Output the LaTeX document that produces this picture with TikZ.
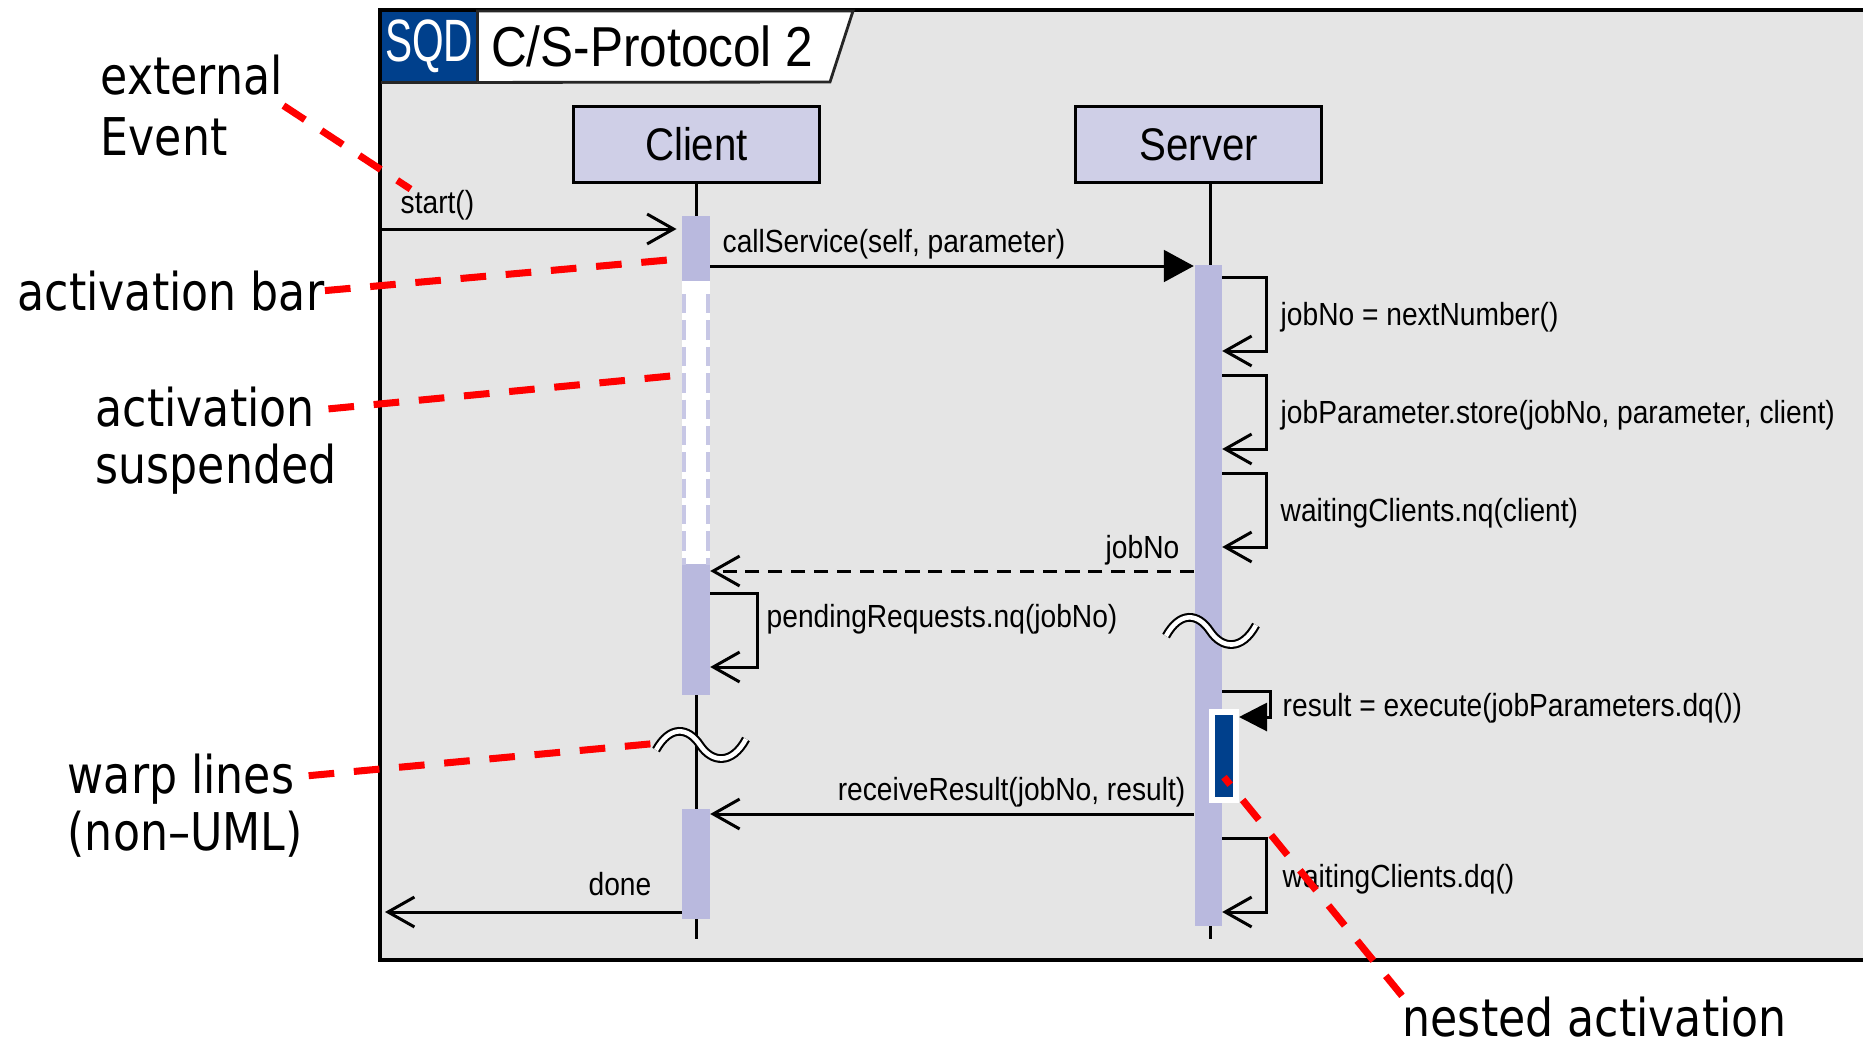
\documentclass[tikz,border=0pt]{standalone}
\usepackage{fontspec}
\usepackage{xcolor}
\usepackage{tikz}
\usetikzlibrary{
  arrows.meta,
  positioning,
  calc
}
\newfontfamily\diafont[FakeStretch=0.88]{Liberation Sans}
\newfontfamily\sqdfont[FakeStretch=0.68]{Liberation Sans}
\newfontfamily\notefont[FakeStretch=0.85]{DejaVu Sans}
\definecolor{sqBack}{HTML}{E5E5E5}
\definecolor{sqHead}{HTML}{CFCFE7}
\definecolor{sqBar}{HTML}{B9B9DE}
\definecolor{sqBlue}{HTML}{00408C}
\definecolor{sqNote}{HTML}{FF0000}
\tikzset{
  sqdframe/.style={draw=black, line width=1.15pt, fill=sqBack},
  sqdtag/.style={
    fill=sqBlue, text=white, inner sep=0pt, minimum width=0.95cm, minimum height=0.70cm,
    font=\sqdfont\fontsize{17pt}{20pt}\selectfont
  },
  titletab/.style={fill=white, draw=black!85, line width=0.8pt},
  titletext/.style={inner sep=0pt, font=\diafont\fontsize{16pt}{20pt}\selectfont},
  lifehead/.style={
    draw, line width=0.85pt, fill=sqHead, minimum width=2.46cm, minimum height=0.75cm,
    inner sep=0pt, font=\diafont\fontsize{13pt}{15pt}\selectfont
  },
  lifeline/.style={line width=0.85pt},
  actbar/.style={fill=sqBar, minimum width=0.27cm, inner sep=0pt, anchor=north},
  suspbar/.style={actbar, fill=white},
  suspedge/.style={draw=sqBar!80, line width=1.1pt, dash pattern=on 5.5pt off 2pt},
  nestbar/.style={fill=sqBlue, draw=white, line width=1.7pt, minimum width=0.24cm, minimum height=0.87cm, inner sep=0pt},
  msg/.style={line width=0.85pt, -{Straight Barb[length=7.5pt, width=8.5pt]}},
  call/.style={line width=0.85pt, -{Triangle[length=8.5pt, width=9pt]}},
  reply/.style={msg, dash pattern=on 4pt off 2.5pt},
  lbl/.style={inner sep=0pt, font=\diafont\fontsize{9.1pt}{11pt}\selectfont},
  warpline/.style={draw=black, line width=0.6pt, double=white, double distance=1.3pt},
  notetext/.style={inner sep=0pt, align=left, font=\notefont\fontsize{14.8pt}{16.3pt}\selectfont},
  pointer/.style={draw=sqNote, line width=2pt, dash pattern=on 7.3pt off 5.6pt}
}

\begin{document}
\begin{tikzpicture}[x=0.01cm, y=-0.01cm]
  \useasboundingbox (0,0) rectangle (1863,1051);
  \clip (0,0) rectangle (1863,1051);

  % frame and heading
  \draw[sqdframe] (380,10) rectangle (1900,960);
  \node[sqdtag, anchor=north west] (sqd) at (381,11) {SQD};
  \draw[titletab] (sqd.north east) -- (853,11) -- (830,82) -- (sqd.south east) -- cycle;
  \draw[titletab] (sqd.south west) -- (sqd.south east);
  \node[titletext, right=0.13cm of sqd] (title) {C/S-Protocol 2};

  % lifelines
  \node[lifehead] (client) at (696.5,144.5) {Client};
  \node[lifehead, right=2.53cm of client] (server) {Server};
  \draw[lifeline] (client.south) -- ++(0,755);
  \draw[lifeline] ([xshift=3.4pt]server.south) -- ++(0,755);

  % activations
  \node[actbar, minimum height=0.65cm] (cbarA) at (696,215) {};
  \node[suspbar, minimum height=2.83cm] (cSusp) at (696,280) {};
  \node[actbar, minimum height=1.31cm] (cbarB) at (696,563) {};
  \node[actbar, minimum height=1.10cm] (cbarC) at (696,808) {};
  \node[actbar, minimum height=6.61cm] (sbar) at (1208,264) {};
  \draw[suspedge] ([xshift=0.6pt, yshift=-4pt]cSusp.north west) -- ([xshift=0.6pt]cSusp.south west);
  \draw[suspedge] ([xshift=-0.6pt, yshift=-4pt]cSusp.north east) -- ([xshift=-0.6pt]cSusp.south east);
  \node[nestbar] (nest) at (1224,756) {};

  % warp lines
  \coordinate (cwarp) at (700,745);
  \coordinate (swarp) at (1210,631);
  \draw[warpline, shift={(cwarp)}] (-44,5) .. controls (-30,-20) and (-12,-18) .. (0,0)
    .. controls (12,18) and (32,20) .. (46,-6);
  \draw[warpline, shift={(swarp)}] (-44,5) .. controls (-30,-20) and (-12,-18) .. (0,0)
    .. controls (12,18) and (32,20) .. (46,-6);

  % messages
  \coordinate (gateIn) at (382,229);
  \coordinate (gateOut) at (385,912);
  \draw[msg, shorten >=1.5pt] (gateIn) -- (cbarA.west |- gateIn);
  \node[lbl, anchor=base west] (lStart) at (400,213) {start()};

  \draw[call] (cbarA.east |- 0,266) -- (sbar.west |- 0,266);
  \node[lbl, anchor=base west] (lCall) at (722,252) {callService(self, parameter)};

  \draw[msg] (sbar.east |- 0,277) -- ++(44,0) -- ++(0,74) -- ++(-44,0);
  \node[lbl, anchor=base west] (lNext) at (1280,325) {jobNo = nextNumber()};
  \draw[msg] (sbar.east |- 0,375) -- ++(44,0) -- ++(0,74) -- ++(-44,0);
  \node[lbl, anchor=base west] (lStore) at (1280,423) {jobParameter.store(jobNo, parameter, client)};
  \draw[msg] (sbar.east |- 0,473) -- ++(44,0) -- ++(0,74) -- ++(-44,0);
  \node[lbl, anchor=base west] (lEnq) at (1280,521) {waitingClients.nq(client)};

  \draw[reply] (sbar.west |- 0,571) -- (cbarB.east |- 0,571);
  \node[lbl, anchor=base east] (lJob) at (1180,558) {jobNo};

  \draw[msg] (cbarB.east |- 0,593) -- ++(47,0) -- ++(0,74) -- ++(-47,0);
  \node[lbl, anchor=base west] (lPend) at (766,627) {pendingRequests.nq(jobNo)};

  \draw[call, -{Triangle[length=8pt, width=8pt]}] (sbar.east |- 0,691) -- ++(48,0) -- ++(0,26) -- (nest.east |- 0,717);
  \node[lbl, anchor=base west] (lExec) at (1282,716) {result = execute(jobParameters.dq())};

  \draw[msg] (sbar.west |- 0,814) -- (cbarC.east |- 0,814);
  \node[lbl, anchor=base east] (lRecv) at (1186,800) {receiveResult(jobNo, result)};

  \draw[msg] (sbar.east |- 0,838) -- ++(44,0) -- ++(0,74) -- ++(-44,0);
  \node[lbl, anchor=base west] (lDeq) at (1282,887) {waitingClients.dq()};

  \draw[msg] (cbarC.west |- gateOut) -- (gateOut);
  \node[lbl, anchor=base east] (lDone) at (652,895) {done};

  % annotations
  \node[notetext, anchor=north west] (nExt) at (100,54) {external\\[1.2pt]Event};
  \node[notetext, anchor=base west] (nBar) at (17,310) {activation bar};
  \node[notetext, anchor=north west] (nSusp) at (95,386) {activation\\suspended};
  \node[notetext, anchor=north west] (nWarp) at (67,753) {warp lines\\(non–UML)};
  \node[notetext, anchor=base west] (nNest) at (1402,1036) {nested activation};

  \draw[pointer] (nExt.east) -- ([xshift=3pt]lStart.north west);
  \draw[pointer] (nBar.east) -- ([yshift=-3pt]cbarA.west);
  \draw[pointer] ([xshift=-2.5pt, yshift=9pt]nSusp.east) -- ([yshift=-27pt]cSusp.north west);
  \draw[pointer] ([xshift=1.5pt, yshift=8.5pt]nWarp.east) -- ([xshift=-11pt, yshift=0.6pt]cwarp);
  \draw[pointer] (nNest.north west) -- ([yshift=-6pt]nest.center);
\end{tikzpicture}
\end{document}
